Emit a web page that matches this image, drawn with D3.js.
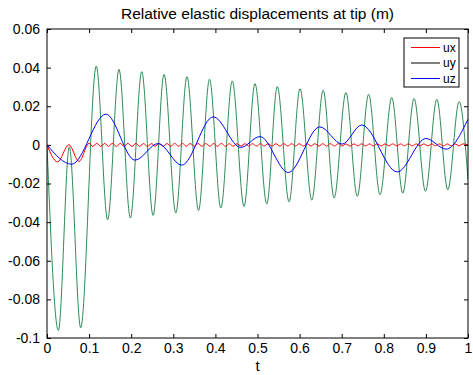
<!DOCTYPE html>
<html>
<head>
<meta charset="utf-8">
<script src="https://cdn.jsdelivr.net/npm/d3@7"></script>
<style>
  body { margin: 0; background: #fff; }
  svg { display: block; font-family: "Liberation Sans", Arial, sans-serif; }
</style>
</head>
<body>
<div id="chart"></div>
<script>
// Relative elastic displacements at tip //////////////////////////////////////

var width = 473;
var height = 375;
var margin = {top: 29, right: 5, bottom: 37, left: 47};

// data (extrema of each curve) //////////////////////////

var xTicks = [0, 0.1, 0.2, 0.3, 0.4, 0.5, 0.6, 0.7, 0.8, 0.9, 1];
var xTickLabels = ['0', '0.1', '0.2', '0.3', '0.4', '0.5', '0.6', '0.7', '0.8', '0.9', '1'];
var yTicks = [-0.1, -0.08, -0.06, -0.04, -0.02, 0, 0.02, 0.04, 0.06];
var yTickLabels = ['-0.1', '-0.08', '-0.06', '-0.04', '-0.02', '0', '0.02', '0.04', '0.06'];

var seriesNames = ['ux', 'uy', 'uz'];
var legendColors = ['#ff0000', '#000000', '#0000ff'];

var uxT = [0, 0.025, 0.052, 0.076, 0.1, 0.109,
  0.118, 0.128, 0.137, 0.146, 0.155, 0.165, 0.174, 0.183, 0.192, 0.202,
  0.211, 0.220, 0.229, 0.239, 0.248, 0.257, 0.266, 0.276, 0.285, 0.294,
  0.303, 0.313, 0.322, 0.331, 0.340, 0.350, 0.359, 0.368, 0.377, 0.387,
  0.396, 0.405, 0.414, 0.424, 0.433, 0.442, 0.451, 0.461, 0.470, 0.479,
  0.488, 0.498, 0.507, 0.516, 0.525, 0.535, 0.544, 0.553, 0.562, 0.572,
  0.581, 0.590, 0.599, 0.609, 0.618, 0.627, 0.636, 0.646, 0.655, 0.664,
  0.673, 0.683, 0.692, 0.701, 0.710, 0.720, 0.729, 0.738, 0.747, 0.757,
  0.766, 0.775, 0.784, 0.794, 0.803, 0.812, 0.821, 0.831, 0.840, 0.849,
  0.858, 0.868, 0.877, 0.886, 0.895, 0.905, 0.914, 0.923, 0.932, 0.942,
  0.951, 0.960, 0.969, 0.979, 0.988, 1.0];
var uxV = [0, -0.0088, 0.0001, -0.0086, 0.0008, -0.0008,
  0.0008, -0.0008, 0.0008, -0.0008, 0.0008, -0.0008, 0.0008, -0.0008, 0.0008, -0.0008,
  0.0008, -0.0008, 0.0007, -0.0008, 0.0007, -0.0007, 0.0007, -0.0007, 0.0007, -0.0007,
  0.0007, -0.0007, 0.0007, -0.0007, 0.0007, -0.0007, 0.0007, -0.0007, 0.0007, -0.0007,
  0.0007, -0.0007, 0.0007, -0.0007, 0.0006, -0.0007, 0.0006, -0.0006, 0.0006, -0.0006,
  0.0006, -0.0006, 0.0006, -0.0006, 0.0006, -0.0006, 0.0006, -0.0006, 0.0006, -0.0006,
  0.0006, -0.0006, 0.0006, -0.0006, 0.0006, -0.0006, 0.0006, -0.0006, 0.0006, -0.0006,
  0.0006, -0.0006, 0.0006, -0.0006, 0.0005, -0.0006, 0.0005, -0.0005, 0.0005, -0.0005,
  0.0005, -0.0005, 0.0005, -0.0005, 0.0005, -0.0005, 0.0005, -0.0005, 0.0005, -0.0005,
  0.0005, -0.0005, 0.0005, -0.0005, 0.0005, -0.0005, 0.0005, -0.0005, 0.0005, -0.0005,
  0.0005, -0.0005, 0.0005, -0.0005, 0.0005, 0.0];

var uyT = [0, 0.027, 0.053, 0.080, 0.117, 0.144, 0.171, 0.198, 0.225, 0.252,
  0.278, 0.306, 0.3325, 0.360, 0.386, 0.413, 0.440, 0.468, 0.494, 0.522,
  0.547, 0.575, 0.601, 0.629, 0.656, 0.682, 0.710, 0.737, 0.764, 0.791,
  0.819, 0.845, 0.872, 0.899, 0.926, 0.952, 0.979, 1.0];
var uyV = [0, -0.0961, -0.0010, -0.0947, 0.0408, -0.0388, 0.0391, -0.0379, 0.0379, -0.0365,
  0.0365, -0.0353, 0.0353, -0.0339, 0.0340, -0.0327, 0.0331, -0.0318, 0.0317, -0.0306,
  0.0302, -0.0295, 0.0291, -0.0286, 0.0283, -0.0275, 0.0271, -0.0267, 0.0262, -0.0258,
  0.0245, -0.0250, 0.0240, -0.0241, 0.0236, -0.0233, 0.0224, -0.0180];

var uzT = [0, 0.0587, 0.140, 0.209, 0.264, 0.320, 0.395, 0.460, 0.506,
  0.573, 0.648, 0.701, 0.7475, 0.832, 0.900, 0.948, 1.0];
var uzV = [0, -0.0100, 0.0159, -0.0079, 0.0007, -0.0105, 0.0145, -0.0013, 0.0043,
  -0.0143, 0.0093, 0.0004, 0.0103, -0.0140, 0.0033, -0.0022, 0.0133];

///////////////////////////////////////////////////////////////////////////////

var svg = d3.select('#chart').append('svg')
  .attr('width', width)
  .attr('height', height);

var x = d3.scaleLinear().domain([0, 1]).range([margin.left, width - margin.right]);
var y = d3.scaleLinear().domain([-0.1, 0.06]).range([height - margin.bottom, margin.top]);

var line = d3.line()
  .x(function(d){ return x(d[0]); })
  .y(function(d){ return y(d[1]); })
  .curve(d3.curveMonotoneX);

function pairs(ts, vs) {
  return ts.map(function(t, i){ return [t, vs[i]]; });
}

svg.append('defs').append('clipPath').attr('id', 'clip')
  .append('rect')
  .attr('x', x(0)).attr('y', y(0.06))
  .attr('width', x(1) - x(0)).attr('height', y(-0.1) - y(0.06));

var plot = svg.append('g').attr('clip-path', 'url(#clip)');

plot.append('path')
  .attr('d', line(pairs(uyT, uyV)))
  .style('fill', 'none')
  .style('stroke', '#2e8b57')
  .style('stroke-width', 1);

plot.append('path')
  .attr('d', line(pairs(uxT, uxV)))
  .style('fill', 'none')
  .style('stroke', '#ff0000')
  .style('stroke-width', 1);

plot.append('path')
  .attr('d', line(pairs(uzT, uzV)))
  .style('fill', 'none')
  .style('stroke', '#0000ff')
  .style('stroke-width', 1);

// axes, ticks inside on all four sides ///////////////////////////////////////

function styleAxis(g) {
  g.select('.domain').remove();
  g.selectAll('line').style('stroke', '#000');
  g.selectAll('text').style('font-size', '14px').style('fill', '#000');
}

svg.append('g')
  .attr('transform', 'translate(0,' + y(-0.1) + ')')
  .call(d3.axisBottom(x).tickValues(xTicks)
    .tickFormat(function(d, i){ return xTickLabels[i]; })
    .tickSizeInner(-4).tickSizeOuter(0).tickPadding(5))
  .call(styleAxis);

svg.append('g')
  .attr('transform', 'translate(0,' + y(0.06) + ')')
  .call(d3.axisTop(x).tickValues(xTicks).tickFormat('')
    .tickSizeInner(-4).tickSizeOuter(0))
  .call(styleAxis);

svg.append('g')
  .attr('transform', 'translate(' + x(0) + ',0)')
  .call(d3.axisLeft(y).tickValues(yTicks)
    .tickFormat(function(d, i){ return yTickLabels[i]; })
    .tickSizeInner(-4).tickSizeOuter(0).tickPadding(7))
  .call(styleAxis);

svg.append('g')
  .attr('transform', 'translate(' + x(1) + ',0)')
  .call(d3.axisRight(y).tickValues(yTicks).tickFormat('')
    .tickSizeInner(-4).tickSizeOuter(0))
  .call(styleAxis);

svg.append('rect')
  .attr('x', x(0)).attr('y', y(0.06))
  .attr('width', x(1) - x(0)).attr('height', y(-0.1) - y(0.06))
  .style('fill', 'none')
  .style('stroke', '#000')
  .style('stroke-width', 1);

// title and label ////////////////////////////////////////////////////////////

svg.append('text')
  .attr('x', (x(0) + x(1)) / 2)
  .attr('y', 19)
  .attr('text-anchor', 'middle')
  .style('font-size', '15.5px')
  .text('Relative elastic displacements at tip (m)');

svg.append('text')
  .attr('x', (x(0) + x(1)) / 2)
  .attr('y', 371)
  .attr('text-anchor', 'middle')
  .style('font-size', '15px')
  .text('t');

// legend /////////////////////////////////////////////////////////////////////

var legend = svg.append('g').attr('transform', 'translate(404,38)');

legend.append('rect')
  .attr('width', 55)
  .attr('height', 49)
  .style('fill', '#fff')
  .style('stroke', '#000')
  .style('stroke-width', 1);

var rows = legend.selectAll('g.row')
  .data(seriesNames)
  .enter().append('g')
  .attr('class', 'row')
  .attr('transform', function(d, i){ return 'translate(0,' + (9.5 + i * 15.5) + ')'; });

rows.append('line')
  .attr('x1', 7).attr('x2', 36)
  .style('stroke', function(d, i){ return legendColors[i]; })
  .style('stroke-width', 1);

rows.append('text')
  .attr('x', 39)
  .attr('dy', '0.35em')
  .style('font-size', '12px')
  .text(function(d){ return d; });
</script>
</body>
</html>
